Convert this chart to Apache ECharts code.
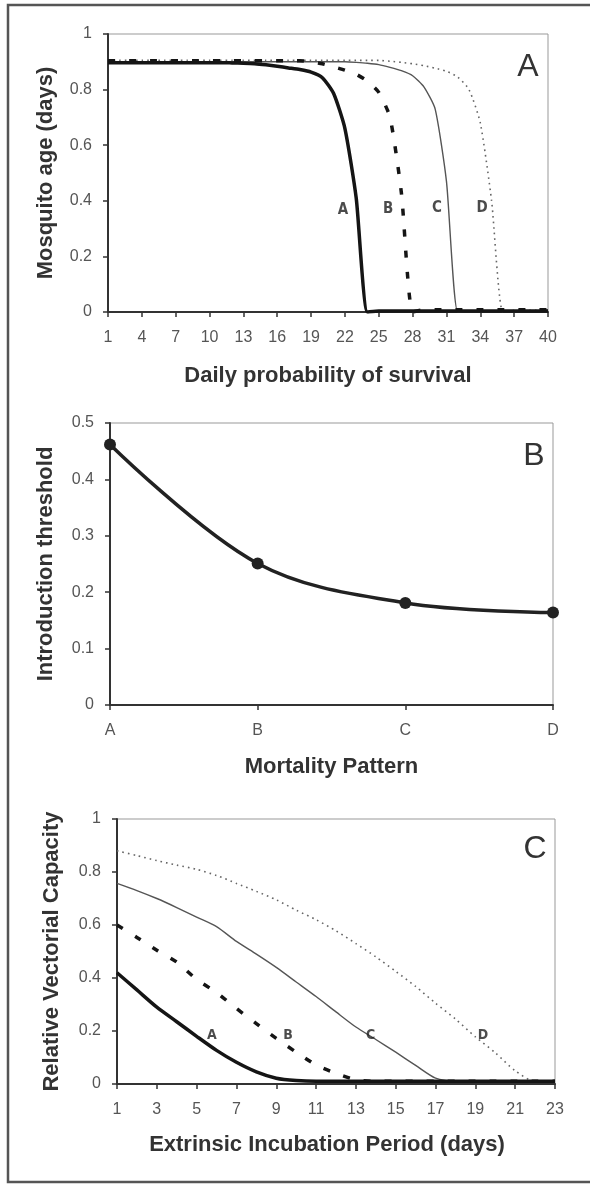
<!DOCTYPE html>
<html>
<head>
<meta charset="utf-8">
<script src="https://cdn.jsdelivr.net/npm/echarts@6/dist/echarts.min.js"></script>
<style>
  html, body { margin: 0; padding: 0; background: #fff; }
  #chart { width: 590px; height: 1185px; }
</style>
</head>
<body>
<div id="chart"></div>
<script>
// Panel A: mosquito age against daily probability of survival
const survivalDays = ['1','2','3','4','5','6','7','8','9','10','11','12','13','14','15','16','17','18','19','20',
                      '21','22','23','24','25','26','27','28','29','30','31','32','33','34','35','36','37','38','39','40'];
const ageA = [0.897,0.897,0.897,0.897,0.897,0.897,0.897,0.897,0.897,0.897,0.897,0.896,0.895,0.893,0.889,0.884,0.878,0.872,0.863,0.843,
              0.786,0.66,0.41,0.0,0.004,0.004,0.004,0.004,0.004,0.004,0.004,0.004,0.004,0.004,0.004,0.004,0.004,0.004,0.004,0.004];
const ageB = [0.904,0.904,0.904,0.904,0.904,0.904,0.904,0.904,0.904,0.904,0.904,0.904,0.904,0.904,0.904,0.904,0.904,0.904,0.9,0.893,
              0.882,0.87,0.855,0.83,0.79,0.70,0.43,0.0,0.008,0.008,0.008,0.008,0.008,0.008,0.008,0.008,0.008,0.008,0.008,0.008];
const ageC = [0.9,0.9,0.9,0.9,0.9,0.9,0.9,0.9,0.9,0.9,0.9,0.9,0.9,0.9,0.9,0.9,0.9,0.9,0.9,0.9,
              0.9,0.9,0.898,0.895,0.89,0.88,0.868,0.85,0.81,0.73,0.47,0.0,0.004,0.004,0.004,0.004,0.004,0.004,0.004,0.004];
const ageD = [0.905,0.905,0.905,0.905,0.905,0.905,0.905,0.905,0.905,0.905,0.905,0.905,0.905,0.905,0.905,0.905,0.905,0.905,0.905,0.905,
              0.905,0.905,0.905,0.905,0.905,0.902,0.898,0.893,0.886,0.877,0.866,0.845,0.80,0.68,0.40,0.0,0.006,0.006,0.006,0.006];
const ageCurveLabels = [['A', 21.83, 0.367], ['B', 25.82, 0.37], ['C', 30.16, 0.372], ['D', 34.15, 0.372]];

// Panel B: introduction threshold by mortality pattern
const mortalityPatterns = ['A', 'B', 'C', 'D'];
const introThreshold = [0.462, 0.251, 0.181, 0.164];

// Panel C: relative vectorial capacity against extrinsic incubation period
const incubationDays = ['1','2','3','4','5','6','7','8','9','10','11','12','13','14','15','16','17','18','19','20','21','22','23'];
const vcA = [0.42,0.355,0.29,0.235,0.18,0.127,0.082,0.046,0.022,0.013,0.01,0.01,0.01,0.01,0.01,0.01,0.01,0.01,0.01,0.01,0.01,0.01,0.01];
const vcB = [0.60,0.553,0.505,0.46,0.395,0.345,0.285,0.228,0.172,0.12,0.072,0.04,0.016,0.01,0.01,0.01,0.01,0.01,0.01,0.01,0.01,0.01,0.01];
const vcC = [0.757,0.73,0.70,0.666,0.63,0.594,0.538,0.49,0.44,0.385,0.33,0.272,0.215,0.168,0.12,0.07,0.022,0.01,0.01,0.01,0.01,0.01,0.01];
const vcD = [0.88,0.862,0.843,0.826,0.81,0.787,0.757,0.727,0.695,0.656,0.62,0.578,0.53,0.48,0.425,0.368,0.305,0.245,0.178,0.118,0.05,0.01,0.01];
const vcCurveLabels = [['A', 5.76, 0.185], ['B', 9.59, 0.185], ['C', 13.74, 0.185], ['D', 19.38, 0.185]];

const tickFont = "'Liberation Sans Narrow', 'Arial Narrow', 'Liberation Sans', Arial, sans-serif";
const labelFont = "'DejaVu Sans Condensed', 'Liberation Sans Narrow', 'Liberation Sans', sans-serif";
const titleFont = "'Liberation Sans', Arial, sans-serif";

function catAxis(gridIndex, data, every, nameText, nameGap, namePad) {
  return {
    type: 'category', gridIndex, data, boundaryGap: false,
    name: nameText, nameLocation: 'middle', nameGap,
    nameTextStyle: { fontFamily: titleFont, fontWeight: 'bold', fontSize: 22, color: '#333', padding: namePad || 0 },
    axisLine: { show: true, lineStyle: { color: '#333', width: 2 } },
    axisTick: { show: true, interval: every, length: 5, lineStyle: { color: '#333', width: 1.5 } },
    axisLabel: { interval: every, margin: 18, fontFamily: tickFont, fontSize: 16, color: '#555' },
    splitLine: { show: false }
  };
}
function valAxis(gridIndex, max, step, nameText, nameGap) {
  return {
    type: 'value', gridIndex, min: 0, max, interval: step,
    name: nameText, nameLocation: 'middle', nameGap,
    nameTextStyle: { fontFamily: titleFont, fontWeight: 'bold', fontSize: 22, color: '#333' },
    axisLine: { show: true, lineStyle: { color: '#333', width: 2 } },
    axisTick: { show: true, length: 5, lineStyle: { color: '#333', width: 1.5 } },
    axisLabel: { margin: 16, fontFamily: tickFont, fontSize: 16, color: '#555' },
    splitLine: { show: false }
  };
}
function hiddenX(gridIndex, min, max) {
  return { type: 'value', gridIndex, min, max, show: false, splitLine: { show: false } };
}
function curveLabels(xAxisIndex, yAxisIndex, list, size) {
  return {
    type: 'scatter', xAxisIndex, yAxisIndex, symbolSize: 0, silent: true, z: 10,
    data: list.map(d => ({ name: d[0], value: [d[1], d[2]] })),
    label: { show: true, position: 'inside', formatter: '{b}', fontFamily: labelFont,
             fontWeight: 'bold', fontSize: size, color: '#1e1e1e' }
  };
}
function line(xAxisIndex, yAxisIndex, data, style, smooth) {
  return { type: 'line', xAxisIndex, yAxisIndex, data, symbol: 'none', smooth: smooth || false,
           lineStyle: Object.assign({ cap: 'butt', join: 'round' }, style) };
}

const thick = { color: '#151515', width: 3.5, type: 'solid' };
const thickDash = { color: '#151515', width: 3.5, type: [7, 14] };
const thin = { color: '#555', width: 1.4, type: 'solid' };
const dotted = { color: '#666', width: 1.6, type: [1.6, 4] };

const chart = echarts.init(document.getElementById('chart'), null, { renderer: 'canvas' });
chart.setOption({
  animation: false,
  backgroundColor: '#fff',
  grid: [
    { left: 108, top: 34, width: 440, height: 278, show: true, borderColor: '#999', borderWidth: 1 },
    { left: 110, top: 423, width: 443, height: 282, show: true, borderColor: '#999', borderWidth: 1 },
    { left: 117, top: 819, width: 438, height: 265, show: true, borderColor: '#999', borderWidth: 1 }
  ],
  xAxis: [
    catAxis(0, survivalDays, 2, 'Daily probability of survival', 53),
    hiddenX(0, 1, 40),
    catAxis(1, mortalityPatterns, 0, 'Mortality Pattern', 51),
    catAxis(2, incubationDays, 1, 'Extrinsic Incubation Period (days)', 50, [0, 18, 0, 0]),
    hiddenX(2, 1, 23)
  ],
  yAxis: [
    valAxis(0, 1, 0.2, 'Mosquito age (days)', 51),
    valAxis(1, 0.5, 0.1, 'Introduction threshold', 53),
    valAxis(2, 1, 0.2, 'Relative Vectorial Capacity', 54)
  ],
  graphic: [
    { type: 'rect', silent: true, z: 100,
      shape: { x: 8, y: 5, width: 600, height: 1177 },
      style: { fill: 'none', stroke: '#555', lineWidth: 2.5 } },
    { type: 'text', x: 528, y: 67, silent: true,
      style: { text: 'A', font: '32px ' + titleFont, fill: '#333', align: 'center', verticalAlign: 'middle' } },
    { type: 'text', x: 534, y: 456, silent: true,
      style: { text: 'B', font: '32px ' + titleFont, fill: '#333', align: 'center', verticalAlign: 'middle' } },
    { type: 'text', x: 535, y: 849, silent: true,
      style: { text: 'C', font: '32px ' + titleFont, fill: '#333', align: 'center', verticalAlign: 'middle' } }
  ],
  series: [
    line(0, 0, ageD, dotted, 0.2),
    line(0, 0, ageC, thin, 0.2),
    line(0, 0, ageB, thickDash, 0.2),
    line(0, 0, ageA, thick, 0.2),
    curveLabels(1, 0, ageCurveLabels, 15),

    { type: 'line', xAxisIndex: 2, yAxisIndex: 1, data: introThreshold, smooth: 0.35,
      symbol: 'circle', symbolSize: 12, itemStyle: { color: '#222' },
      lineStyle: { color: '#222', width: 3.5 } },

    line(3, 2, vcD, dotted, 0.25),
    line(3, 2, vcC, thin, 0.25),
    line(3, 2, vcB, thickDash, 0.25),
    line(3, 2, vcA, thick, 0.25),
    curveLabels(4, 2, vcCurveLabels, 14)
  ]
});
</script>
</body>
</html>
